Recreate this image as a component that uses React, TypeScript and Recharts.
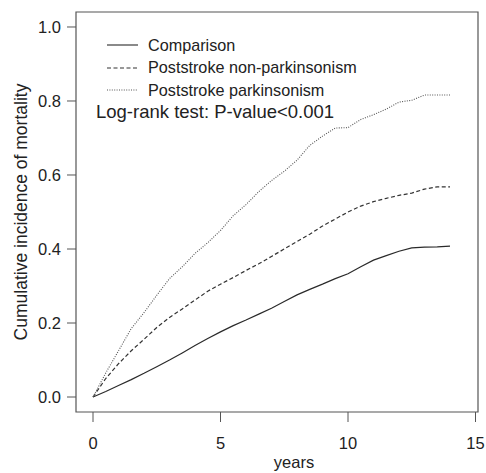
import React from 'react';
import { LineChart, Line, XAxis, YAxis, ReferenceArea, Legend } from 'recharts';

const years = [0, 0.5, 1, 1.5, 2, 2.5, 3, 3.5, 4, 4.5, 5, 5.5, 6, 6.5, 7, 7.5, 8, 8.5, 9, 9.5, 10, 10.5, 11, 11.5, 12, 12.5, 13, 13.5, 14];

const comparison = [0, 0.015, 0.031, 0.047, 0.064, 0.082, 0.1, 0.119, 0.139, 0.158, 0.176, 0.193, 0.208, 0.224, 0.24, 0.258, 0.276, 0.291, 0.305, 0.32, 0.333, 0.352, 0.37, 0.382, 0.394, 0.403, 0.405, 0.406, 0.408];

const nonParkinsonism = [0, 0.05, 0.09, 0.125, 0.156, 0.188, 0.215, 0.238, 0.262, 0.286, 0.305, 0.323, 0.342, 0.36, 0.38, 0.4, 0.42, 0.44, 0.462, 0.481, 0.5, 0.516, 0.528, 0.537, 0.545, 0.551, 0.562, 0.568, 0.568];

const parkinsonism = [0, 0.065, 0.125, 0.185, 0.228, 0.275, 0.32, 0.352, 0.388, 0.417, 0.45, 0.49, 0.52, 0.555, 0.585, 0.61, 0.64, 0.68, 0.705, 0.727, 0.728, 0.75, 0.763, 0.778, 0.797, 0.802, 0.816, 0.816, 0.816];

const xTicks = [0, 5, 10, 15];
const yTicks = [0, 0.2, 0.4, 0.6, 0.8, 1.0];

const seriesNames = ['Comparison', 'Poststroke non-parkinsonism', 'Poststroke parkinsonism'];

const xDomain = [-0.667, 15.098];
const yDomain = [-0.0405, 1.0405];

const data = years.map((t, i) => ({
  t,
  comparison: comparison[i],
  nonPark: nonParkinsonism[i],
  park: parkinsonism[i],
}));

const FONT = '"Liberation Sans", Arial, Helvetica, sans-serif';

const styles = [
  { key: 'comparison', stroke: '#2a2a2a', dash: undefined as string | undefined, width: 1.2 },
  { key: 'nonPark', stroke: '#333', dash: '4 2.5', width: 1.2 },
  { key: 'park', stroke: '#555', dash: '1 1.4', width: 1.1 },
];

const renderLegend = () => (
  <div style={{ fontFamily: FONT, fontSize: 16.2, color: '#222', textAlign: 'left' }}>
    {seriesNames.map((name, i) => (
      <div key={name} style={{ display: 'flex', alignItems: 'center', height: 22.5 }}>
        <svg width={41} height={10}>
          <line x1={0} x2={31} y1={5} y2={5} stroke={styles[i].stroke} strokeWidth={1.1} strokeDasharray={styles[i].dash} />
        </svg>
        <span>{name}</span>
      </div>
    ))}
  </div>
);

export default function App() {
  return (
    <div style={{ position: 'absolute', left: 0, top: 0, width: 486, height: 473, background: '#fff' }}>
      <LineChart width={486} height={473} data={data} margin={{ top: 12, right: 8, left: 0, bottom: 0 }}>
        <XAxis
          dataKey="t"
          type="number"
          domain={xDomain}
          ticks={xTicks}
          allowDataOverflow
          axisLine={false}
          tickSize={10}
          tickMargin={15}
          height={61}
          tickLine={{ stroke: '#555' }}
          tick={{ fill: '#222', fontSize: 16.5, fontFamily: FONT }}
          label={{
            content: ({ viewBox }: any) => (
              <text x={viewBox.x + viewBox.width / 2 + 17} y={viewBox.y + viewBox.height - 5} textAnchor="middle" fill="#222" fontSize={16.5} fontFamily={FONT}>
                years
              </text>
            ),
          }}
        />
        <YAxis
          type="number"
          domain={yDomain}
          ticks={yTicks}
          allowDataOverflow
          axisLine={false}
          width={76}
          tickSize={9}
          tickMargin={6}
          tickLine={{ stroke: '#555' }}
          tickFormatter={(v: number) => v.toFixed(1)}
          tick={{ fill: '#222', fontSize: 16.5, fontFamily: FONT }}
          label={{
            content: ({ viewBox }: any) => {
              const cx = 27;
              const cy = viewBox.y + viewBox.height / 2;
              return (
                <text x={cx} y={cy} transform={`rotate(-90 ${cx} ${cy})`} textAnchor="middle" fill="#222" fontSize={17.5} fontFamily={FONT}>
                  Cumulative incidence of mortality
                </text>
              );
            },
          }}
        />
        <ReferenceArea x1={xDomain[0]} x2={xDomain[1]} y1={yDomain[0]} y2={yDomain[1]} fill="none" stroke="#555" strokeWidth={1.2} ifOverflow="visible" />
        <Legend
          layout="horizontal"
          align="center"
          verticalAlign="middle"
          content={renderLegend}
          wrapperStyle={{ position: 'absolute', left: 107, top: 34, width: 'auto' }}
        />
        {styles.map((s) => (
          <Line
            key={s.key}
            type="linear"
            dataKey={s.key}
            stroke={s.stroke}
            strokeWidth={s.width}
            strokeDasharray={s.dash}
            dot={false}
            activeDot={false}
            isAnimationActive={false}
          />
        ))}
      </LineChart>
      <div style={{ position: 'absolute', left: 96, top: 101, fontFamily: FONT, fontSize: 18.5, color: '#222', whiteSpace: 'nowrap' }}>
        Log-rank test: P-value&lt;0.001
      </div>
    </div>
  );
}
